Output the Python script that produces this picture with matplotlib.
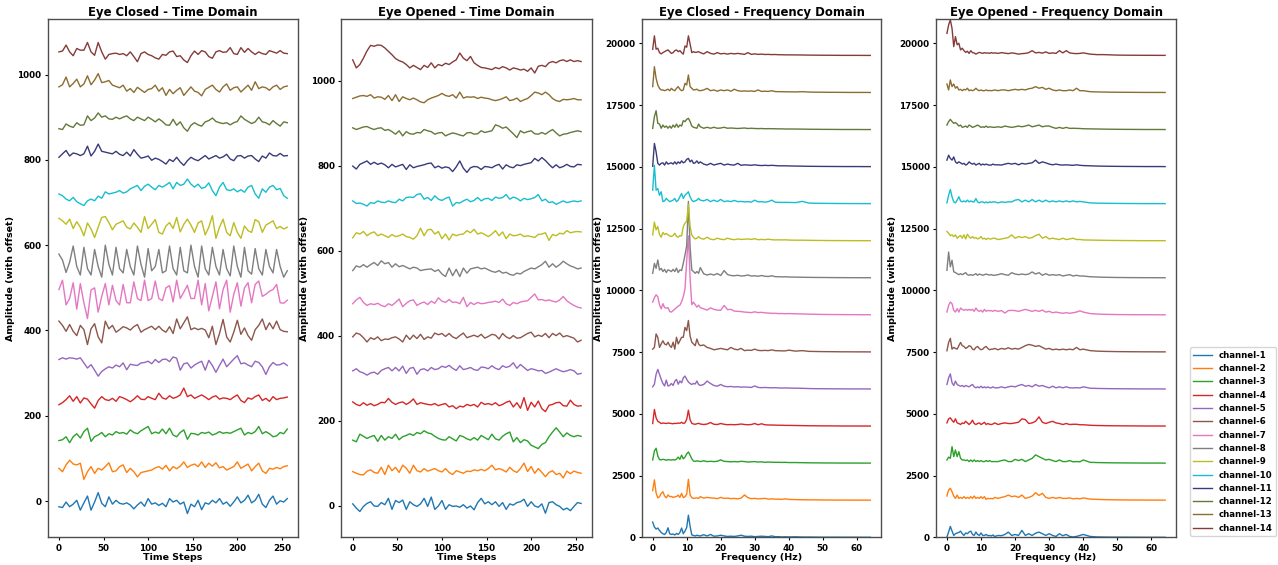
import numpy as np
import matplotlib
matplotlib.use('Agg')
import matplotlib.pyplot as plt

# time axis (every 4th sample) and frequency grid (Hz)
t = np.arange(0, 257, 4)
freqs = np.concatenate([np.arange(0, 14.5, 0.5), np.arange(15, 41), np.arange(42, 65, 2)])

channels = ['channel-%d' % (i + 1) for i in range(14)]
colors = list(plt.cm.tab10.colors) + ['#393b79', '#637939', '#8c6d31', '#843c39']

time_offset = 80
freq_offset = 1500

# values relative to each channel's offset, channel 1 .. 14
closed_time = [
    [-13,-15,-2,-13,-7,2,-21,-4,12,-21,-2,20,-5,-13,10,-7,2,-5,-7,-4,-9,-18,-9,-2,-12,6,-7,-4,-10,-5,-13,6,-2,2,-7,-2,-29,-7,-13,2,-20,-4,-7,2,-4,6,-7,-2,-12,-2,10,-4,2,14,-4,2,16,-7,-15,2,12,-7,1,-2,6],
    [-3,-11,5,16,7,5,9,-29,-11,1,-15,-3,-7,1,10,-11,-9,1,5,-13,-3,-11,-23,-13,-11,-9,-7,-2,1,-5,4,-9,1,-4,2,12,-1,4,7,1,12,-1,9,2,10,-2,1,-7,-3,1,12,-3,2,7,-9,1,9,-9,-15,-3,-5,-1,-4,1,3],
    [-18,-16,-9,-23,-9,-2,-12,3,11,-20,-9,-5,1,-9,-2,-5,3,-1,1,-3,7,1,-2,5,10,15,-2,2,-1,9,-2,11,-5,-9,1,7,-15,-1,-2,-5,1,-1,2,-5,-2,3,-1,1,-1,3,7,11,-5,1,-2,3,15,-2,3,-2,-9,-7,1,-2,9],
    [-14,-9,-2,7,-6,5,-10,2,-1,-12,-22,-4,5,-2,-4,1,-6,5,2,-2,-7,-1,7,-1,-2,5,1,-2,13,2,-1,7,1,4,9,25,5,9,1,5,9,4,-2,4,7,-1,2,1,-2,4,9,-4,-9,2,-1,5,9,-4,1,-6,5,-2,1,2,4],
    [12,16,13,16,15,13,16,4,-8,0,-13,-27,-16,-10,-5,-8,-1,-5,4,-12,1,-1,-2,4,5,8,2,12,5,12,13,7,18,15,-13,2,4,-8,-1,4,8,-13,10,-2,-18,-2,13,-5,4,13,21,2,4,-1,-5,8,5,-5,-23,-5,5,-1,0,4,-2],
    [22,12,-2,14,-2,-12,12,2,-33,4,16,-15,-29,22,4,12,-4,2,9,6,1,9,14,-4,2,6,10,2,10,1,-4,9,-7,27,4,18,32,2,6,2,5,1,-17,10,-33,-7,26,-15,-27,-4,24,-9,6,-12,-23,2,12,27,2,18,4,22,2,-2,-3],
    [16,38,-20,-5,32,-30,30,-15,-52,15,20,-37,0,30,-20,26,-10,-20,28,-15,-15,34,-5,-10,38,-10,-5,36,-5,-10,20,25,-13,38,-5,10,26,-5,-5,38,-20,30,-34,0,34,-29,16,38,-37,5,32,-23,20,32,-15,28,36,0,5,12,16,28,-15,-16,-9],
    [19,5,-24,0,38,-10,-30,35,-15,-30,30,-10,-35,40,-5,-30,35,-15,-25,30,-10,-30,38,-5,-35,32,-20,-10,30,-25,-20,38,-15,-30,35,-20,-25,40,-10,-35,38,-15,-30,35,-10,-30,30,-15,-32,38,-10,-35,35,-20,-28,32,-15,-30,30,-10,-25,30,-10,-35,-20],
    [23,17,9,21,-1,15,2,-18,12,-2,-22,2,25,27,13,-4,9,13,17,2,-2,12,2,-10,27,-1,9,20,-10,-14,5,13,-1,25,-9,9,21,7,-10,12,17,-16,2,29,-24,2,21,-10,-18,13,-10,-24,5,-6,-10,20,15,-10,7,12,17,-1,4,-2,2],
    [0,-4,-12,-16,-8,-18,-23,-27,-16,-12,-16,-5,-10,5,0,2,4,8,2,5,12,16,20,8,18,23,16,10,20,16,21,27,12,27,20,23,35,23,16,23,13,16,26,8,-4,16,27,10,8,12,5,10,4,16,20,0,-10,12,4,16,20,10,13,-4,-10],
    [6,14,22,9,16,14,10,14,32,9,20,37,20,18,16,14,20,13,10,18,9,24,13,4,6,9,-1,4,1,-4,-10,1,-4,6,-5,-13,-2,6,1,-2,4,10,2,6,10,4,7,13,2,-2,9,10,4,9,10,2,-4,9,4,16,10,9,15,9,10],
    [-7,-9,4,-1,-4,7,1,2,23,12,18,30,20,23,16,15,20,16,20,23,16,12,20,16,12,20,15,9,16,10,2,1,15,1,9,-5,-13,1,7,2,-1,9,12,18,10,7,5,7,2,7,10,23,15,10,5,9,20,9,7,2,12,5,-1,9,7],
    [11,16,34,11,19,29,11,18,37,16,27,42,21,23,26,15,12,9,15,1,7,-2,10,4,-2,5,7,15,1,9,-9,5,-5,3,9,-9,1,11,1,-2,-10,5,10,15,5,-1,11,18,3,9,11,-1,7,15,3,23,7,11,9,3,11,15,5,11,13],
    [13,15,29,13,4,21,17,17,35,13,5,35,13,-4,7,9,10,7,9,4,13,2,-10,9,13,7,4,-1,-4,7,5,13,15,2,4,-6,-12,4,15,7,16,13,2,-2,13,16,12,13,23,9,7,23,12,21,13,7,13,9,7,16,13,10,16,10,9],
]

opened_time = [
    [4,-6,-14,-2,5,9,-1,-2,7,2,17,-9,12,7,13,-9,9,2,-2,4,17,-2,20,-9,-1,12,-9,2,-2,-1,-4,2,-6,-1,-10,7,17,4,9,2,9,-2,7,-9,4,1,7,9,15,-2,9,-1,-4,4,-18,7,9,2,-2,-10,-6,-12,-2,7,5],
    [0,-4,-7,-8,1,4,-2,-4,10,-7,15,2,10,-2,15,8,-4,15,2,-1,7,1,4,7,2,-1,7,-2,-7,2,-1,-4,1,0,4,2,5,2,7,15,4,7,4,-1,10,2,-2,7,20,0,12,-4,7,-2,-12,-2,2,-7,-4,-15,1,-5,1,-2,-4],
    [-6,-10,8,3,-2,2,5,-9,5,-6,2,-2,8,-5,2,5,9,5,12,9,16,11,9,3,-2,-5,-6,2,-3,-8,5,2,-3,-6,0,-6,5,0,-5,8,-3,-6,3,9,13,-10,0,-12,-5,-8,-18,-22,-26,-16,-12,2,13,23,13,2,11,5,2,5,3],
    [4,-2,-5,2,-4,0,-5,-2,3,2,12,3,-2,2,4,-2,3,11,-2,2,0,-2,-3,0,-5,-2,0,-8,-5,-12,-6,-8,-2,-5,-2,-8,3,-2,0,-3,2,-5,-2,3,6,-8,2,-11,14,-16,3,-8,6,-12,-19,-4,-2,2,3,-5,-6,8,-2,-6,-5],
    [-3,2,-5,-8,-13,-8,-6,-11,-2,2,5,-3,5,-3,8,-9,3,5,-11,0,2,-3,5,0,2,8,5,10,3,-2,9,0,2,5,0,-2,6,5,2,9,3,0,9,5,8,16,3,12,5,-2,2,0,-3,-2,-9,-6,-2,2,-2,-5,-3,0,-3,-11,-9],
    [-3,6,3,-5,-15,-5,-9,-3,-12,-8,-9,-5,-3,-8,-15,1,-9,1,-7,3,-9,-3,-6,6,2,5,-2,5,-3,-7,0,6,-5,-2,1,-3,3,-6,-2,3,1,-8,5,-3,-7,0,-6,-5,0,5,8,-3,1,-2,5,-5,5,0,6,-3,0,-3,-6,-15,-11],
    [-5,4,10,-2,-9,-5,-7,-4,-9,-12,-5,-9,-2,6,-12,-4,2,4,-9,-4,-1,-7,1,-4,9,1,-2,5,-2,-1,-5,10,-12,-2,-7,-2,-5,-4,-2,-1,1,-2,6,-5,-9,-2,-5,-1,1,2,10,18,4,5,2,4,1,-1,4,12,2,-4,-9,-13,-15],
    [-7,4,1,7,1,7,12,5,16,9,12,1,9,2,5,1,-3,1,-1,-7,-5,-4,-3,-9,-5,-15,-21,-1,-19,-4,-21,-1,-13,-3,-1,1,-3,-1,-5,-9,-11,-7,-13,-11,-16,-18,-13,-15,-9,-5,-1,-3,2,7,15,1,9,1,7,15,9,4,1,-3,-1],
    [-10,2,-1,5,-5,1,4,-5,-1,-5,-9,-2,-7,-5,-1,-7,-9,-13,-5,13,-5,9,10,-1,5,-12,-1,-15,-1,-5,-2,-1,7,2,10,-1,2,-2,-7,-1,7,-5,4,-12,-1,-5,-4,-1,-7,-5,-7,-9,-2,-1,2,-16,-2,-5,1,-1,7,2,4,5,4],
    [-3,-9,-8,-11,-15,-7,-9,-3,-6,-7,-3,-6,-7,1,-3,5,6,5,12,14,1,5,-2,9,1,-2,3,6,-15,-7,-8,-3,1,-5,-2,5,-3,2,3,-2,6,3,5,12,1,6,3,-3,3,0,2,5,12,-3,1,-7,-5,-11,-7,-3,-7,-5,-3,-5,-3],
    [-1,-8,3,7,11,3,8,3,6,2,-5,3,-3,0,3,-9,2,-5,-2,0,2,5,6,-5,-1,-6,-3,-5,-14,-3,11,-6,-16,-5,-2,-3,-9,-2,-3,-5,0,3,-8,2,-3,-5,2,0,3,5,7,17,11,19,12,3,-5,2,-5,-2,3,-2,-3,3,2],
    [9,5,8,11,12,8,5,8,9,3,5,0,-6,2,-10,0,-5,-6,-2,-3,5,2,0,-6,-3,-2,-10,-6,-3,-5,-8,-10,-3,-2,-6,-5,2,-2,0,2,16,13,8,11,3,-5,-14,2,-3,0,2,-5,-6,-2,-6,0,5,-3,-10,-6,-5,-2,0,2,0],
    [-2,1,4,5,3,7,-1,2,1,-4,5,-7,7,-9,2,-2,-5,-1,-5,-10,-12,-5,-1,2,5,10,5,3,7,-1,13,-1,2,1,2,-2,1,-1,-2,-5,-7,-5,-2,2,-7,-5,-1,-9,-5,-2,5,13,11,7,13,7,-2,-7,-9,-4,-5,-4,-2,-5,-5],
    [9,-10,-2,13,30,43,41,44,43,37,29,21,12,7,4,-2,-10,-4,-9,-14,-4,-9,2,-10,-2,-5,1,-2,4,9,25,13,7,17,2,-4,-9,-10,-12,-14,-9,-12,-7,-10,-15,-10,-12,-15,-13,-18,-10,-22,-6,-4,-7,2,5,2,7,9,5,9,5,7,5],
]

closed_freq = [
    [620,420,340,380,280,200,150,120,200,390,150,120,140,100,160,120,200,380,150,260,400,900,450,100,80,60,90,70,60,
     110,60,120,50,60,90,60,40,50,40,60,90,50,40,50,30,40,50,40,30,60,30,30,20,25,20,
     25,15,15,12,10,10,10,8,8,8,6,6],
    [395,830,300,100,150,280,350,180,100,220,150,160,120,140,160,210,120,280,110,150,250,850,220,110,80,90,100,80,150,
     90,120,100,90,70,120,80,90,70,80,60,90,220,110,70,80,60,70,80,50,60,50,50,40,60,40,
     30,25,20,20,15,15,12,12,10,10,10,8],
    [136,500,610,300,150,140,160,150,120,150,140,130,150,130,170,250,160,330,180,250,380,460,330,180,90,80,100,90,70,
     100,70,80,70,80,140,80,70,60,70,60,80,70,50,60,70,50,60,40,50,45,40,40,35,40,30,
     30,25,20,18,15,14,12,10,10,10,8,8],
    [110,680,340,200,160,110,130,120,110,130,120,110,100,120,110,130,120,160,110,140,280,650,260,120,90,80,100,120,90,
     70,90,150,80,70,110,80,60,70,60,70,90,70,60,70,110,60,100,60,50,50,45,40,40,35,35,
     30,25,20,18,15,14,12,10,10,10,8,8],
    [95,200,600,800,600,400,230,130,370,130,150,230,150,320,395,200,330,260,460,530,400,290,230,190,230,210,330,190,150,
     190,330,230,150,120,190,120,100,110,90,100,80,90,80,70,130,70,60,70,60,55,60,50,45,50,45,
     40,35,25,20,18,15,14,12,10,10,10,8],
    [120,190,735,600,190,330,460,330,290,400,260,190,400,120,600,330,460,600,600,1000,870,1280,650,400,330,260,530,330,260,
     290,190,150,95,120,150,120,95,190,120,95,150,60,80,70,120,70,60,70,60,90,60,55,50,50,80,
     40,60,30,25,20,18,15,12,12,10,10,8],
    [520,700,820,740,420,250,460,300,280,300,140,120,180,240,300,360,400,540,750,1050,2200,3200,1500,420,520,420,320,400,300,
     250,200,290,230,200,190,390,220,230,160,150,140,120,110,100,130,100,110,90,80,70,70,60,60,55,60,
     50,45,35,30,25,22,20,18,15,15,12,12],
    [190,590,390,730,320,390,260,350,220,330,300,260,350,260,400,220,330,300,590,930,1300,3100,1250,320,260,190,260,190,420,
     170,120,160,120,180,100,300,140,100,90,110,80,90,120,80,90,70,100,70,60,90,55,50,45,50,40,
     35,30,25,22,20,18,15,14,12,12,10,10],
    [245,760,450,580,260,150,340,260,300,250,200,180,220,310,180,150,220,200,580,720,800,1480,580,240,150,80,110,170,110,
     70,150,70,50,110,70,50,110,70,50,80,60,70,80,60,90,50,60,50,70,50,40,45,40,45,35,
     30,30,25,20,18,15,14,12,12,10,10,8],
    [555,1560,555,620,350,490,90,120,220,150,90,120,150,220,90,150,285,420,220,350,420,490,280,150,90,120,150,220,150,
     120,180,90,150,90,180,90,120,90,140,90,100,80,90,70,150,80,90,70,90,150,70,60,60,60,60,
     50,100,30,25,20,18,15,14,12,12,10,10],
    [20,945,610,140,70,140,160,70,200,110,140,160,110,200,110,200,140,240,160,200,300,340,200,270,140,160,240,140,200,
     110,70,140,70,110,140,70,110,80,70,140,60,80,70,60,80,60,50,60,50,60,50,40,40,40,35,
     30,25,20,18,15,14,12,10,10,10,8,8],
    [55,530,770,260,230,60,190,100,150,60,150,60,190,100,230,100,190,150,365,330,420,460,330,150,100,80,60,230,120,
     60,100,60,100,60,70,100,60,70,60,50,60,70,50,60,50,45,50,40,45,40,40,35,35,30,30,
     28,25,20,18,15,14,12,10,10,10,8,8],
    [245,1050,580,310,175,110,110,80,110,140,80,175,110,80,175,245,140,80,110,380,310,715,245,175,110,120,140,90,80,
     110,175,80,110,60,110,80,110,60,140,80,60,70,60,70,50,110,50,60,50,80,45,40,40,35,35,
     30,40,25,20,18,15,14,12,10,10,10,8],
    [255,800,260,300,120,70,120,160,200,230,160,90,120,200,230,160,200,120,60,390,340,800,470,120,160,130,140,160,120,
     70,160,90,60,120,70,90,60,90,70,90,70,50,120,50,70,50,60,45,50,40,45,35,35,30,30,
     28,25,20,18,15,14,12,10,10,10,8,8],
]

opened_freq = [
    [15,220,445,260,80,150,180,200,255,150,80,180,150,220,255,120,80,220,120,80,180,80,80,120,70,80,60,100,40,
     80,70,120,215,80,120,80,285,80,150,80,170,215,150,80,150,80,40,150,70,120,40,20,40,80,120,
     40,20,15,12,10,10,8,8,6,6,6,5],
    [175,420,490,350,175,80,215,80,120,80,150,80,120,80,150,80,175,80,120,80,150,80,150,40,80,70,80,60,120,
     80,120,150,215,150,175,120,215,80,120,175,310,200,285,120,80,120,80,120,80,80,100,60,80,60,100,
     50,40,30,25,20,18,15,14,12,12,10,10],
    [135,250,200,675,270,540,270,470,200,135,135,110,135,70,135,70,135,70,110,70,110,70,70,110,70,110,70,70,70,
     70,110,135,70,70,160,110,160,70,135,200,340,270,200,135,160,110,70,135,70,70,110,60,70,60,135,
     40,30,25,20,18,15,14,12,10,10,10,8],
    [135,300,340,240,160,300,135,110,70,135,110,200,135,70,135,245,110,70,110,135,70,110,160,70,110,80,70,90,135,
     70,110,135,110,110,135,160,300,270,110,135,200,380,160,110,160,200,135,110,70,110,70,80,80,60,60,
     40,30,25,20,18,15,14,12,10,10,10,8],
    [190,460,620,260,150,325,190,150,120,150,95,150,120,95,150,190,95,55,95,55,120,55,95,55,95,55,55,95,55,
     55,95,55,95,120,95,150,190,120,150,95,190,120,150,95,55,120,55,95,55,95,55,50,60,50,95,
     40,30,25,20,18,15,14,12,10,10,10,8],
    [55,390,555,120,190,150,120,260,390,260,230,150,190,260,230,120,95,190,230,150,95,120,190,230,150,95,120,120,150,
     95,150,120,175,120,150,120,190,260,310,280,230,260,190,120,150,95,120,95,120,95,120,95,190,95,120,
     60,40,30,25,20,18,15,14,12,12,10,10],
    [120,390,525,460,190,120,260,120,285,230,190,230,190,230,190,230,150,285,190,150,190,120,230,150,190,170,180,150,190,
     150,180,80,180,190,180,150,190,230,190,150,190,150,200,120,150,95,120,95,70,95,70,95,120,170,120,
     60,40,30,25,20,18,15,14,12,12,10,10],
    [310,1050,450,720,250,220,175,135,175,135,175,215,135,110,135,110,135,175,110,160,135,110,135,160,135,120,135,110,110,
     135,175,135,110,215,160,135,160,135,160,245,160,215,110,175,110,135,110,135,80,110,135,80,110,80,80,
     50,40,30,25,20,18,15,14,12,12,10,10],
    [380,310,215,245,175,245,110,175,215,110,245,80,270,175,110,175,110,135,80,110,175,80,110,55,110,80,80,110,110,
     55,80,110,135,245,110,175,135,175,110,135,215,270,110,175,80,110,80,55,110,55,80,110,55,60,40,
     35,30,25,20,18,15,14,12,10,10,10,8],
    [40,350,580,285,80,40,150,285,120,80,120,80,150,80,120,80,80,215,80,40,80,80,40,80,40,80,60,80,80,
     40,80,60,80,80,150,175,80,150,80,175,80,150,80,150,80,120,80,120,80,120,80,120,80,100,80,
     40,30,25,20,18,15,14,12,10,10,10,8],
    [270,470,340,270,400,200,140,200,160,110,140,70,110,200,140,110,140,70,110,140,70,110,80,110,80,70,70,110,80,
     80,70,110,140,110,140,80,140,110,140,160,270,140,200,160,110,80,110,80,70,80,70,60,80,60,50,
     40,30,25,20,18,15,14,12,10,10,10,8],
    [190,330,420,330,260,290,230,150,190,95,120,150,95,190,150,95,120,150,190,150,95,120,95,150,95,120,110,100,95,
     120,95,150,120,95,120,150,120,150,190,120,150,190,120,150,150,95,55,95,55,95,55,60,55,50,40,
     35,30,25,20,18,15,14,12,10,10,10,8],
    [350,110,515,245,350,180,245,110,135,80,135,110,180,80,110,80,110,180,110,80,110,80,80,110,80,90,80,90,110,
     80,110,110,80,110,135,110,135,110,160,180,245,180,215,135,180,110,80,110,80,80,110,80,180,80,80,
     40,30,25,20,18,15,14,12,10,10,10,8],
    [900,1240,1450,1100,365,770,440,500,230,300,200,130,180,90,200,120,110,60,100,130,110,90,120,100,110,90,120,100,110,
     90,120,100,80,110,90,60,80,90,120,200,110,130,100,150,90,110,90,200,110,200,110,90,80,90,110,
     60,40,40,30,20,18,15,14,12,12,10,10],
]

for name, group, n in [('closed_time', closed_time, len(t)), ('opened_time', opened_time, len(t)),
                       ('closed_freq', closed_freq, len(freqs)), ('opened_freq', opened_freq, len(freqs))]:
    for i, vals in enumerate(group):
        assert len(vals) == n, (name, i + 1, len(vals), n)

plt.rcParams['font.family'] = 'DejaVu Sans'
plt.rcParams['font.weight'] = 'bold'
plt.rcParams['axes.titleweight'] = 'bold'
plt.rcParams['axes.labelweight'] = 'bold'

fig = plt.figure(figsize=(12.78, 5.65), dpi=100)

panels = [
    ([0.0372, 0.0488, 0.1958, 0.9175], closed_time, t, time_offset, 'Eye Closed - Time Domain',
     'Time Steps', (-12.75, 267.75), (-85, 1130), np.arange(0, 251, 50), np.arange(0, 1001, 200)),
    ([0.2671, 0.0488, 0.1958, 0.9175], opened_time, t, time_offset, 'Eye Opened - Time Domain',
     'Time Steps', (-12.75, 267.75), (-75, 1145), np.arange(0, 251, 50), np.arange(0, 1001, 200)),
    ([0.5022, 0.0488, 0.1873, 0.9175], closed_freq, freqs, freq_offset, 'Eye Closed - Frequency Domain',
     'Frequency (Hz)', (-3.2, 67.2), (0, 20980), np.arange(0, 61, 10), np.arange(0, 20001, 2500)),
    ([0.7324, 0.0488, 0.1878, 0.9175], opened_freq, freqs, freq_offset, 'Eye Opened - Frequency Domain',
     'Frequency (Hz)', (-3.2, 67.2), (0, 20980), np.arange(0, 61, 10), np.arange(0, 20001, 2500)),
]

for box, data, x, off, title, xlabel, xlim, ylim, xt, yt in panels:
    ax = fig.add_axes(box)
    for i, vals in enumerate(data):
        ax.plot(x, np.array(vals) + off * i, color=colors[i], lw=1.0, label=channels[i])
    ax.set_title(title, fontsize=8.4, pad=2)
    ax.set_xlabel(xlabel, fontsize=6.8, labelpad=0)
    ax.set_ylabel('Amplitude (with offset)', fontsize=6.8, labelpad=1.5)
    ax.set_xlim(*xlim)
    ax.set_ylim(*ylim)
    ax.set_xticks(xt)
    ax.set_yticks(yt)
    ax.tick_params(labelsize=6.3, length=2.5, width=0.8, pad=2)
    for s in ax.spines.values():
        s.set_linewidth(1.0)
        s.set_color('0.3')

handles, labels = ax.get_legend_handles_labels()
fig.legend(handles, labels, loc='lower left', bbox_to_anchor=(0.931, 0.051), borderaxespad=0,
           prop={'weight': 'bold', 'size': 6.2}, handlelength=2.2)

fig.savefig('out.png', dpi=100)
